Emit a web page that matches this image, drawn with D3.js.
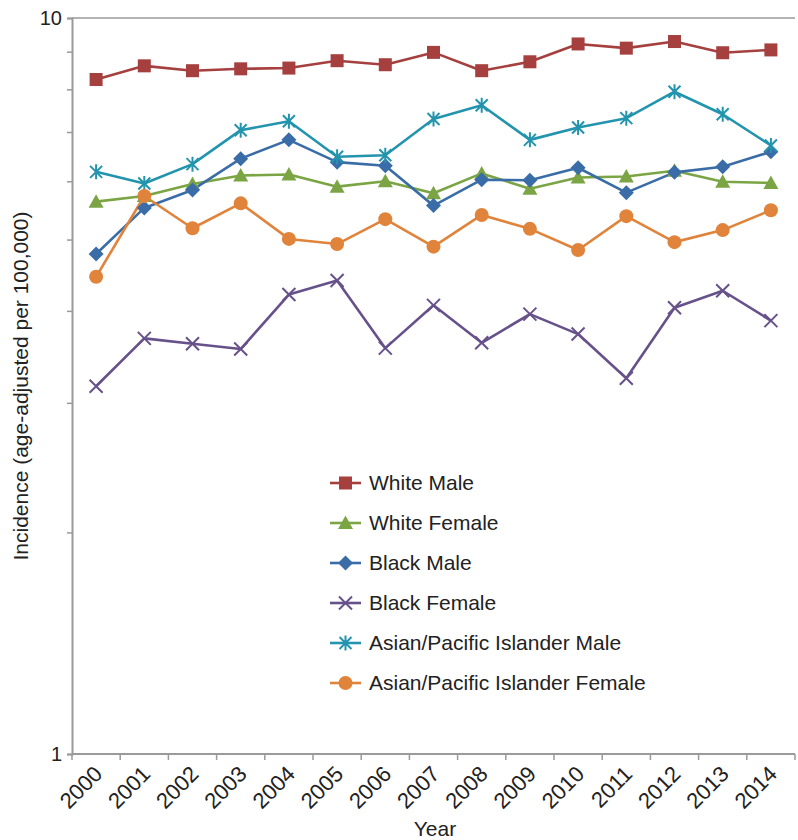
<!DOCTYPE html>
<html>
<head>
<meta charset="utf-8">
<script src="https://cdn.jsdelivr.net/npm/d3@7"></script>
<style>
  html, body { margin: 0; padding: 0; background: #fff; }
  svg { display: block; font-family: "Liberation Sans", Arial, Helvetica, sans-serif; }
</style>
</head>
<body>
<svg id="chart" width="798" height="840"></svg>
<script>
// Years on the category axis
const years = ["2000","2001","2002","2003","2004","2005","2006","2007","2008","2009","2010","2011","2012","2013","2014"];

// Age-adjusted incidence per 100,000, one array per group
const whiteMale   = [8.25, 8.61, 8.48, 8.53, 8.55, 8.75, 8.64, 8.98, 8.48, 8.72, 9.22, 9.10, 9.29, 8.97, 9.05];
const whiteFemale = [5.63, 5.73, 5.95, 6.11, 6.13, 5.90, 6.00, 5.78, 6.15, 5.86, 6.07, 6.09, 6.20, 5.99, 5.97];
const blackMale   = [4.78, 5.52, 5.84, 6.44, 6.83, 6.37, 6.30, 5.56, 6.03, 6.02, 6.26, 5.79, 6.17, 6.28, 6.58];
const blackFemale = [3.16, 3.67, 3.61, 3.55, 4.21, 4.40, 3.56, 4.07, 3.62, 3.96, 3.72, 3.24, 4.04, 4.26, 3.88];
const apiMale     = [6.18, 5.96, 6.33, 7.04, 7.24, 6.48, 6.51, 7.29, 7.61, 6.83, 7.10, 7.31, 7.94, 7.40, 6.71];
const apiFemale   = [4.45, 5.73, 5.18, 5.60, 5.01, 4.93, 5.33, 4.89, 5.40, 5.17, 4.84, 5.38, 4.96, 5.15, 5.48];

// Log axis: labelled decades and minor ticks between them
const yMajorTicks = [1, 10];
const yMinorTicks = [2, 3, 4, 5, 6, 7, 8, 9];

const series = [
  { name: "White Male", values: whiteMale, color: "#A5403F", symbol: "square" },
  { name: "White Female", values: whiteFemale, color: "#7BA544", symbol: "triangle" },
  { name: "Black Male", values: blackMale, color: "#3A6DA7", symbol: "diamond" },
  { name: "Black Female", values: blackFemale, color: "#67518B", symbol: "x" },
  { name: "Asian/Pacific Islander Male", values: apiMale, color: "#2394AE", symbol: "star" },
  { name: "Asian/Pacific Islander Female", values: apiFemale, color: "#E0833B", symbol: "circle" }
];

const svg = d3.select("#chart");
const margin = { left: 72, right: 3, top: 18, bottom: 86 };
const width = 798, height = 840;

const x = d3.scaleBand().domain(years).range([margin.left, width - margin.right]);
const y = d3.scaleLog().domain([1, 10]).range([height - margin.bottom, margin.top]);
const cx = d => x(d) + x.bandwidth() / 2;

const axisColor = "#9a9a9a";
const textColor = "#222";

// top gridline at 10
svg.append("line")
  .attr("x1", margin.left).attr("x2", width - margin.right)
  .attr("y1", y(10)).attr("y2", y(10))
  .attr("stroke", axisColor).attr("stroke-width", 1.5);

// y axis
const yAxis = svg.append("g").attr("transform", `translate(${margin.left},0)`)
  .call(d3.axisLeft(y).tickValues(yMajorTicks.concat(yMinorTicks)).tickSize(5).tickFormat(""));
yAxis.select(".domain").attr("stroke", axisColor).attr("stroke-width", 2);
yAxis.selectAll(".tick line").attr("stroke", axisColor).attr("stroke-width", 1.5);

svg.append("g").selectAll("text").data(yMajorTicks).join("text")
  .attr("x", margin.left - 10).attr("y", d => y(d))
  .attr("dy", "0.35em").attr("text-anchor", "end")
  .attr("font-size", 20).attr("fill", textColor)
  .text(d => d);

// x axis with ticks on band boundaries
const xBase = y(1);
const xAxis = svg.append("g").attr("transform", `translate(0,${xBase})`);
xAxis.append("line").attr("x1", margin.left).attr("x2", width - margin.right)
  .attr("stroke", axisColor).attr("stroke-width", 2);
const bounds = years.map(d => x(d)).concat([x(years[years.length - 1]) + x.bandwidth()]);
xAxis.selectAll("line.tk").data(bounds).join("line").attr("class", "tk")
  .attr("x1", d => d).attr("x2", d => d).attr("y1", 0).attr("y2", 6)
  .attr("stroke", axisColor).attr("stroke-width", 1.5);
xAxis.selectAll("text").data(years).join("text")
  .attr("transform", d => `translate(${cx(d) + 2},${16}) rotate(-45)`)
  .attr("text-anchor", "end").attr("dy", "0.35em")
  .attr("font-size", 22).attr("fill", textColor)
  .text(d => d);

// axis titles
svg.append("text").attr("x", 435).attr("y", 836)
  .attr("text-anchor", "middle").attr("font-size", 21).attr("fill", textColor).text("Year");
svg.append("text").attr("transform", `translate(28,386) rotate(-90)`)
  .attr("text-anchor", "middle").attr("font-size", 21).attr("fill", textColor)
  .text("Incidence (age-adjusted per 100,000)");

// marker drawing
function drawMarker(g, symbol, color) {
  switch (symbol) {
    case "square":
      g.append("rect").attr("x", -6.5).attr("y", -6.5).attr("width", 13).attr("height", 13).attr("fill", color);
      break;
    case "triangle":
      g.append("path").attr("d", "M0,-7.5L7.5,6L-7.5,6Z").attr("fill", color);
      break;
    case "diamond":
      g.append("path").attr("d", "M0,-7.5L7.5,0L0,7.5L-7.5,0Z").attr("fill", color);
      break;
    case "circle":
      g.append("circle").attr("r", 7).attr("fill", color);
      break;
    case "x":
      g.append("path").attr("d", "M-6.5,-6.5L6.5,6.5M-6.5,6.5L6.5,-6.5")
        .attr("stroke", color).attr("stroke-width", 2).attr("fill", "none");
      break;
    case "star":
      g.append("path").attr("d", "M-6,-6L6,6M-6,6L6,-6M0,-7.5L0,7.5")
        .attr("stroke", color).attr("stroke-width", 2).attr("fill", "none");
      break;
  }
}

const line = d3.line().x((d, i) => cx(years[i])).y(d => y(d));

const plot = svg.append("g");
series.forEach(s => {
  plot.append("path").datum(s.values)
    .attr("d", line).attr("fill", "none")
    .attr("stroke", s.color).attr("stroke-width", 2.6).attr("stroke-linejoin", "round");
});
series.forEach(s => {
  s.values.forEach((v, i) => {
    const g = plot.append("g").attr("transform", `translate(${cx(years[i])},${y(v)})`);
    drawMarker(g, s.symbol, s.color);
  });
});

// legend
const legend = svg.append("g").attr("transform", "translate(330,483)");
series.forEach((s, i) => {
  const g = legend.append("g").attr("transform", `translate(0,${i * 40})`);
  g.append("line").attr("x1", 0).attr("x2", 31).attr("stroke", s.color).attr("stroke-width", 2.6);
  const m = g.append("g").attr("transform", "translate(15.5,0)");
  drawMarker(m, s.symbol, s.color);
  g.append("text").attr("x", 39).attr("dy", "0.35em")
    .attr("font-size", 21).attr("fill", textColor).text(s.name);
});
</script>
</body>
</html>
